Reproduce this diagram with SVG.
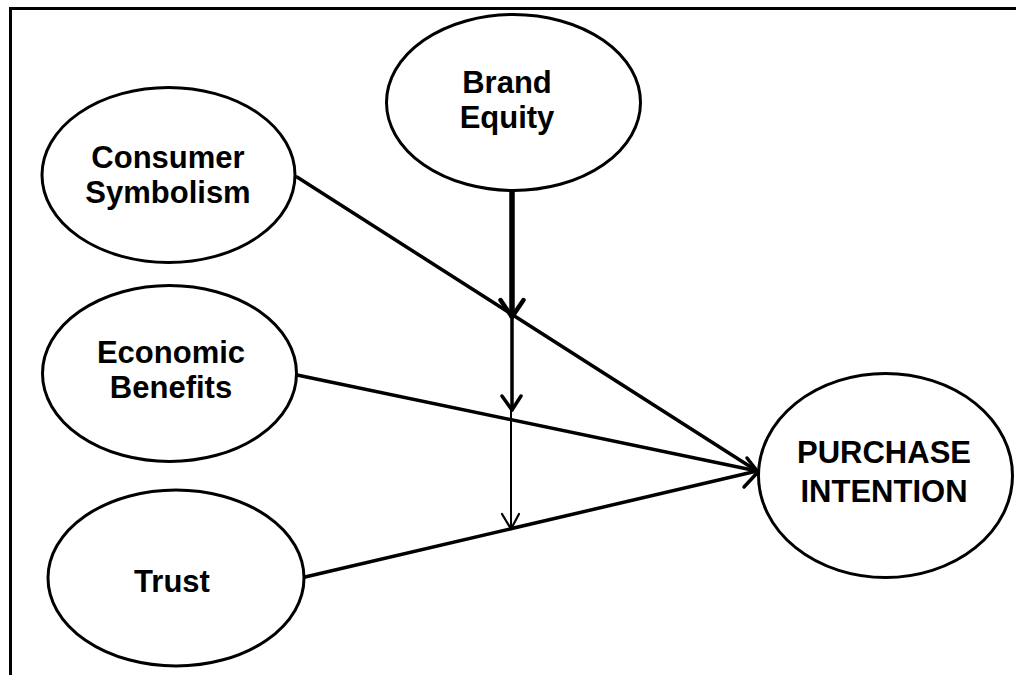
<svg xmlns="http://www.w3.org/2000/svg" width="1016" height="675" viewBox="0 0 1016 675">
<style>
.node ellipse{fill:#fff;stroke:#000;stroke-width:3}
.node text{font-family:"Liberation Sans",Arial,sans-serif;font-weight:bold;font-size:31px;fill:#000;text-anchor:middle}
.edge{fill:none;stroke:#000;stroke-linecap:round;stroke-linejoin:round}
</style>
<rect width="1016" height="675" fill="#fff"/>
<path d="M10.5 675 V8.5 H1016" fill="none" stroke="#000" stroke-width="3"/>
<g id="connectors">
<line class="edge" x1="297" y1="177" x2="757" y2="471" stroke-width="3.5"/>
<line class="edge" x1="297" y1="375" x2="757" y2="471" stroke-width="3.5"/>
<line class="edge" x1="305" y1="577" x2="757" y2="471" stroke-width="3.5"/>
<polyline class="edge" points="747,458 758,472 744,487" stroke-width="3.5"/>
<line class="edge" x1="512" y1="191" x2="512" y2="316" stroke-width="5.5"/>
<polyline class="edge" points="500.5,300 512,317 523.5,300" stroke-width="4.5"/>
<line class="edge" x1="512" y1="317" x2="512" y2="410" stroke-width="3.5"/>
<polyline class="edge" points="502,396 512,410 521,396" stroke-width="3.5"/>
<line class="edge" x1="511" y1="410" x2="511" y2="529" stroke-width="2"/>
<polyline class="edge" points="502,514 511,529 519,514" stroke-width="2.2"/>
</g>
<g id="brand-equity" class="node">
<ellipse cx="513.5" cy="102.5" rx="127" ry="88"/>
<text x="507" y="93">Brand</text>
<text x="507" y="128">Equity</text>
</g>
<g id="consumer-symbolism" class="node">
<ellipse cx="168.5" cy="175" rx="126.5" ry="87.5"/>
<text x="168" y="168">Consumer</text>
<text x="168" y="203">Symbolism</text>
</g>
<g id="economic-benefits" class="node">
<ellipse cx="169.5" cy="373.5" rx="127" ry="88"/>
<text x="171" y="363">Economic</text>
<text x="171" y="398">Benefits</text>
</g>
<g id="trust" class="node">
<ellipse cx="176" cy="578" rx="128" ry="88"/>
<text x="172" y="592">Trust</text>
</g>
<g id="purchase-intention" class="node">
<ellipse cx="885.5" cy="475.5" rx="127" ry="102"/>
<text x="884" y="463">PURCHASE</text>
<text x="884" y="502">INTENTION</text>
</g>
</svg>
